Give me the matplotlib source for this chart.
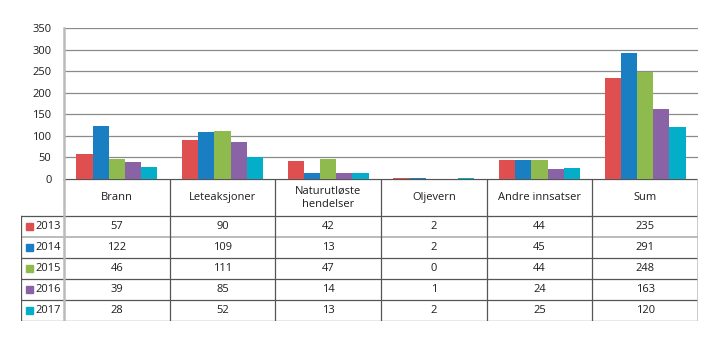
import matplotlib.pyplot as plt
from matplotlib.patches import Rectangle

categories = ["Brann", "Leteaksjoner", "Naturutløste\nhendelser", "Oljevern", "Andre innsatser", "Sum"]
years = ["2013", "2014", "2015", "2016", "2017"]
v2013 = [57, 90, 42, 2, 44, 235]
v2014 = [122, 109, 13, 2, 45, 291]
v2015 = [46, 111, 47, 0, 44, 248]
v2016 = [39, 85, 14, 1, 24, 163]
v2017 = [28, 52, 13, 2, 25, 120]
series = [v2013, v2014, v2015, v2016, v2017]
colors = ["#df4f4f", "#1a7ec2", "#8fbb4e", "#8a63a6", "#05aec8"]
yticks = [0, 50, 100, 150, 200, 250, 300, 350]

plt.rcParams['font.family'] = ['Open Sans', 'DejaVu Sans']
W, H = 720, 341
fig = plt.figure(figsize=(W / 100, H / 100), dpi=100)

# pixel layout
x0, x1 = 64, 698
ytop, ybase, ybot = 28, 179, 321
xleft = 21
colw = (x1 - x0) / len(categories)

ax = fig.add_axes([x0 / W, 1 - ybase / H, (x1 - x0) / W, (ybase - ytop) / H])
ax.set_xlim(-0.5, len(categories) - 0.5)
ax.set_ylim(0, 350)
bw = 0.153
for i, (vals, c) in enumerate(zip(series, colors)):
    xs = [k + (i - 2) * bw for k in range(len(categories))]
    ax.bar(xs, vals, width=bw, color=c, zorder=3)
ax.set_yticks(yticks)
ax.set_yticklabels([str(t) for t in yticks], fontsize=8, color="#1e1e1e")
ax.tick_params(axis='y', length=0, pad=9)
ax.set_xticks([])
ax.yaxis.grid(True, color="#8a8a8a", linewidth=0.9)
for s in ax.spines.values():
    s.set_visible(False)

# data table under the bars
tx = fig.add_axes([xleft / W, 1 - ybot / H, (x1 - xleft) / W, (ybot - ybase) / H])
left_c = -0.5 - (x0 - xleft) / colw
tx.set_xlim(left_c, len(categories) - 0.5)
tx.set_ylim(ybot - ybase, 0)
tx.axis('off')
hdr = 37
rowh = 21
dark = "#555555"
light = "#bbbbbb"
# horizontal rules
tx.plot([-0.5, len(categories) - 0.5], [0, 0], color=dark, lw=0.9)
for r in range(len(years) + 1):
    y = hdr + r * rowh
    col = light if r == 1 else dark
    tx.plot([left_c, len(categories) - 0.5], [y, y], color=col, lw=1.4 if r == 1 else 0.9)
# vertical rules
tx.plot([left_c, left_c], [hdr, hdr + 5 * rowh], color=dark, lw=0.9)
for k in range(1, len(categories)):
    tx.plot([k - 0.5, k - 0.5], [0, hdr + 5 * rowh], color=dark, lw=0.9)
for xe in (-0.5, len(categories) - 0.5):
    tx.plot([xe, xe], [0, hdr + 5 * rowh], color=light, lw=1.8)
# left axis line continues above the table
ax.plot([-0.5, -0.5], [0, 350], color=light, lw=1.8, clip_on=False, zorder=4)

for k, cat in enumerate(categories):
    tx.text(k, hdr / 2, cat, ha='center', va='center', fontsize=8, color="#1e1e1e",
            linespacing=1.3)
for r, (yr, vals, c) in enumerate(zip(years, series, colors)):
    yc = hdr + r * rowh + rowh / 2
    sq = 7 / colw
    tx.add_patch(Rectangle((left_c + 5 / colw, yc - 3.5), sq, 7, color=c, clip_on=False))
    tx.text(left_c + 14 / colw, yc, yr, ha='left', va='center', fontsize=8, color="#1e1e1e")
    for k, v in enumerate(vals):
        tx.text(k, yc, str(v), ha='center', va='center', fontsize=8, color="#1e1e1e")

fig.savefig("out.png", dpi=100)
